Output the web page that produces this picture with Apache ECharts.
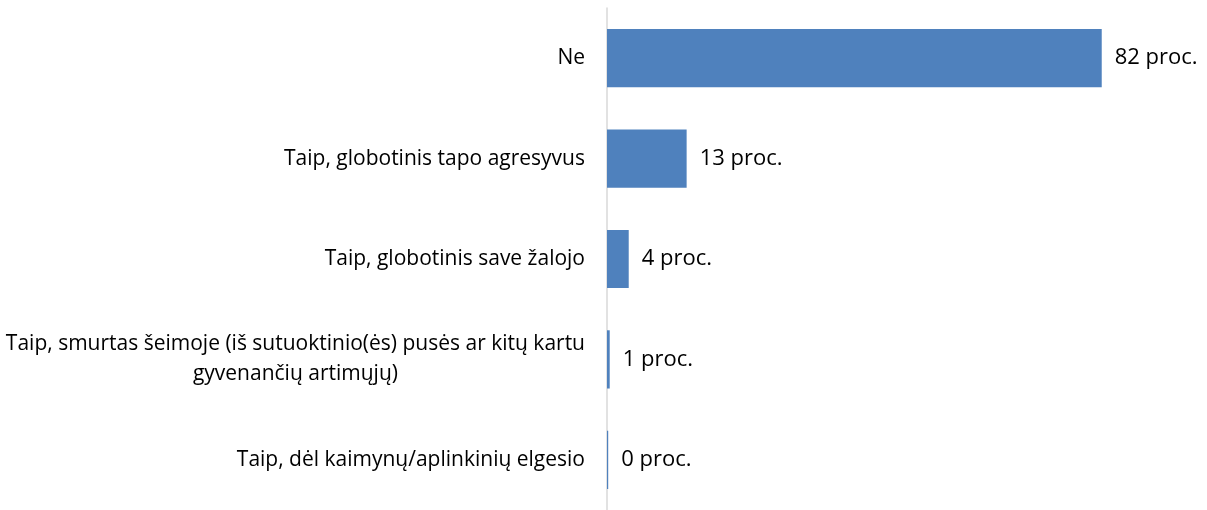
<!DOCTYPE html>
<html>
<head>
<meta charset="utf-8">
<script src="https://cdn.jsdelivr.net/npm/echarts@6/dist/echarts.min.js"></script>
<style>
    html, body { margin: 0; padding: 0; background: #fff; }
    #main { width: 1207px; height: 510px; }
</style>
</head>
<body>
<div id="main"></div>
<script>
    // kategorijos (iš viršaus į apačią)
    var categories = [
        'Ne',
        'Taip, globotinis tapo agresyvus',
        'Taip, globotinis save žalojo',
        'Taip, smurtas šeimoje (iš sutuoktinio(ės) pusės ar kitų kartu\ngyvenančių artimųjų)',
        'Taip, dėl kaimynų/aplinkinių elgesio'
    ];
    // reikšmės, nuskaitytos nuo paveikslo
    var values = [82, 13.2, 3.6, 0.45, 0.2];
    // užrašai prie stulpelių
    var valueLabels = ['82 proc.', '13 proc.', '4 proc.', '1 proc.', '0 proc.'];

    var myChart = echarts.init(document.getElementById('main'));

    var option = {
        animation: false,
        grid: {
            left: 607,
            right: 57,
            top: 8,
            bottom: -3
        },
        xAxis: {
            type: 'value',
            min: 0,
            max: 90,
            show: false
        },
        yAxis: {
            type: 'category',
            inverse: true,
            data: categories,
            axisLine: { lineStyle: { color: '#d9d9d9', width: 1.5 } },
            axisTick: { show: false },
            axisLabel: {
                margin: 22,
                fontFamily: 'Open Sans',
                fontSize: 21,
                color: '#000',
                formatter: function (v) {
                    return v.split('\n').map(function (s) { return '{c|' + s + '}'; }).join('\n');
                },
                rich: {
                    c: { align: 'center', fontFamily: 'Open Sans', fontSize: 21, color: '#000', lineHeight: 30 }
                }
            }
        },
        series: [
            {
                type: 'bar',
                data: values,
                barCategoryGap: '42%',
                itemStyle: { color: '#4f81bd' },
                label: {
                    show: true,
                    position: 'right',
                    distance: 13,
                    fontFamily: 'Open Sans',
                    fontSize: 22,
                    color: '#000',
                    formatter: function (p) { return valueLabels[p.dataIndex]; }
                }
            }
        ]
    };

    myChart.setOption(option);
</script>
</body>
</html>
